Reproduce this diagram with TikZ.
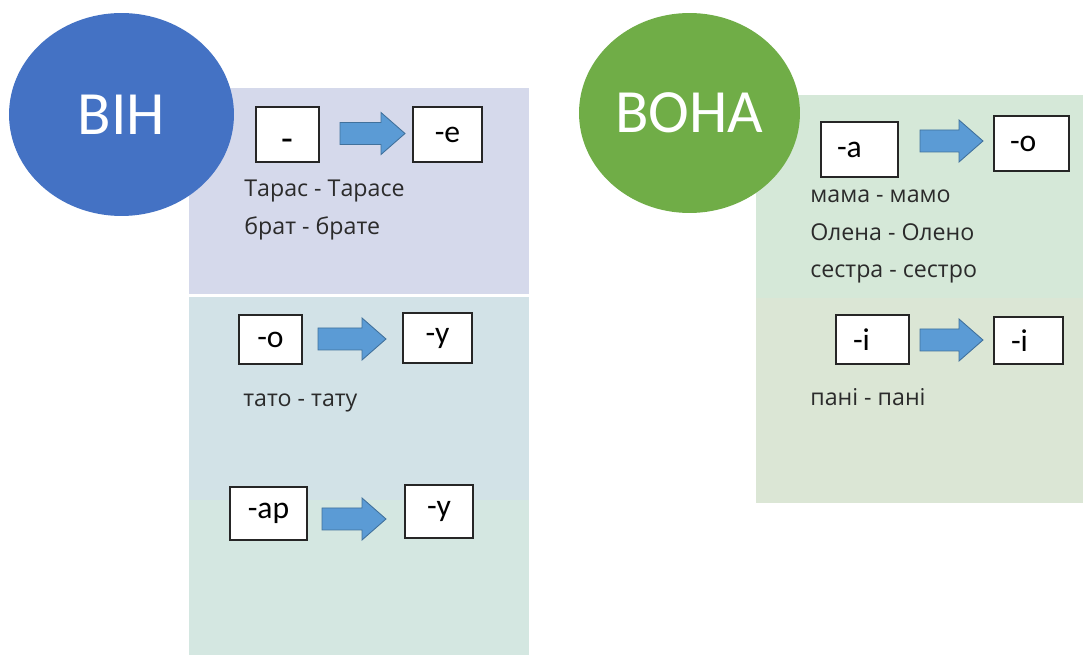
\documentclass[tikz,border=0pt]{standalone}
\usepackage{fontspec}
\setmainfont{Carlito}
\newfontfamily\exfont{Open Sans}
\usetikzlibrary{shapes.geometric}
\definecolor{heblue}{HTML}{4472C4}
\definecolor{shegreen}{HTML}{70AD47}
\definecolor{arrowfill}{HTML}{5B9BD5}
\definecolor{arrowline}{HTML}{41719C}
\definecolor{panelA}{HTML}{D5D9EB}
\definecolor{panelB}{HTML}{D2E2E7}
\definecolor{panelC}{HTML}{D4E7E1}
\definecolor{panelD}{HTML}{D5E8D8}
\definecolor{panelE}{HTML}{DBE6D5}
\definecolor{boxline}{HTML}{262626}
\definecolor{txt}{HTML}{2B2B2B}
% block arrow: #1 name, #2 left x, #3 right x, #4 centre y
\newcommand\blockarrow[4]{%
  \draw[barrowstyle] (#2,#4-11) -- (#3-24,#4-11) -- (#3-24,#4-21) -- (#3,#4)
    -- (#3-24,#4+21) -- (#3-24,#4+11) -- (#2,#4+11) -- cycle;
  \coordinate (#1) at ({(#2+#3)/2},#4);}
\begin{document}
\begin{tikzpicture}[x=0.02cm,y=-0.02cm,
  box/.style={draw=boxline, fill=white, line width=0.8pt, inner sep=0pt,
    font=\fontsize{18}{20}\selectfont, text=black},
  boxl/.style={box, align=left, inner xsep=0.32cm},
  barrowstyle/.style={draw=arrowline, fill=arrowfill, line width=0.5pt, line join=miter},
  ex/.style={anchor=base west, font=\exfont\fontsize{13.2}{15}\selectfont, text=txt, inner sep=0pt},
  bubble/.style={ellipse, inner sep=0pt, text=white, font=\fontsize{35}{40}\selectfont}
]
\useasboundingbox[fill=white] (0,0) rectangle (1083,655);

% panels
\fill[panelA] (189,88) rectangle (529,294);
\fill[panelB] (189,297) rectangle (529,500);
\fill[panelC] (189,500) rectangle (529,655);
\fill[panelD] (756,95) rectangle (1083,298);
\fill[panelE] (756,298) rectangle (1083,503);

% bubbles
\node[bubble, fill=heblue, minimum width=4.5cm, minimum height=4.06cm] (he) at (121.5,114.5) {ВІН};
\node[bubble, fill=shegreen, minimum width=4.42cm, minimum height=4.0cm] (she) at (689.5,113) {ВОНА};

% left top
\node[box, minimum width=1.26cm, minimum height=1.1cm, font=\fontsize{22}{22}\selectfont] (b1) at (287.5,134.5) {\raisebox{-9.5pt}[0pt][0pt]{-}};
\node[box, minimum width=1.38cm, minimum height=1.1cm] (b2) at (447.5,134.5) {-е};
\blockarrow{a1}{340}{405}{133.5}
\node[ex] (t1) at (244,197) {Тарас - Тарасе};
\node[ex] (t2) at (244,235) {брат - брате};

% left bottom
\node[box, minimum width=1.26cm, minimum height=0.98cm] (b3) at (270.5,339.5) {-о};
\node[box, minimum width=1.38cm, minimum height=1.0cm] (b4) at (437.5,338) {-у};
\blockarrow{a2}{318}{386}{339}
\node[ex] (t3) at (243,407) {тато - тату};

\node[box, minimum width=1.54cm, minimum height=1.06cm] (b5) at (268.5,513.5) {-ар};
\node[box, minimum width=1.36cm, minimum height=1.06cm] (b6) at (439,511.5) {-у};
\blockarrow{a3}{322}{386}{519}

% right top
\node[boxl, text width=0.9cm, minimum height=1.1cm] (b7) at (859.5,149.5) {-а};
\node[boxl, text width=0.86cm, minimum height=1.1cm] (b8) at (1031.5,143.5) {-о};
\blockarrow{a4}{920}{983}{141}
\node[ex] (t4) at (810,203) {мама - мамо};
\node[ex] (t5) at (810,241) {Олена - Олено};
\node[ex] (t6) at (810,278) {сестра - сестро};

% right bottom
\node[boxl, inner xsep=0.34cm, text width=0.78cm, minimum height=0.98cm] (b9) at (872.5,339.5) {-і};
\node[boxl, inner xsep=0.34cm, text width=0.70cm, minimum height=0.94cm] (b10) at (1028.5,340.5) {-і};
\blockarrow{a5}{920}{983}{340}
\node[ex] (t7) at (810,406) {пані - пані};
\end{tikzpicture}
\end{document}
